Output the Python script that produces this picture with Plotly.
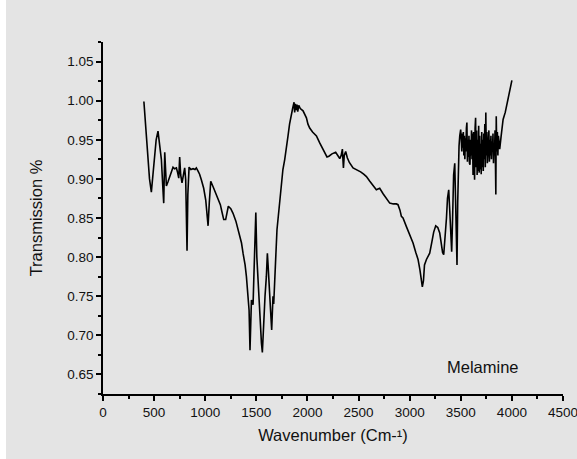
import plotly.graph_objects as go

# Wavenumber (cm-1) and transmission values
wavenumber = [
    400, 420, 440, 455, 473, 490, 506, 520, 538, 555, 571, 585, 594, 604, 612, 620, 635, 652, 668, 685,
    700, 718, 730, 741, 750, 760, 773, 785, 799, 809, 815, 822, 830, 842, 860, 881, 900, 913, 930, 945,
    962, 985, 1005, 1018, 1028, 1040, 1054, 1080, 1109, 1130, 1148, 1165, 1181, 1200, 1212, 1226, 1250,
    1272, 1300, 1321, 1337, 1355, 1370, 1377, 1390, 1403, 1415, 1429, 1438, 1445, 1452, 1460, 1468, 1475,
    1485, 1495, 1505, 1517, 1525, 1533, 1543, 1550, 1559, 1565, 1572, 1585, 1598, 1608, 1615, 1621, 1630,
    1637, 1650, 1663, 1670, 1680, 1690, 1702, 1712, 1730, 1745, 1760, 1778, 1795, 1810, 1825, 1843, 1855,
    1869, 1875, 1882, 1890, 1898, 1905, 1915, 1930, 1957, 1990, 2005, 2022, 2050, 2088, 2120, 2152, 2175,
    2191, 2210, 2240, 2276, 2295, 2316, 2330, 2342, 2347, 2352, 2360, 2374, 2390, 2410, 2446, 2480, 2520,
    2550, 2577, 2610, 2640, 2674, 2690, 2707, 2740, 2770, 2805, 2840, 2870, 2886, 2905, 2919, 2935, 2968,
    3000, 3033, 3060, 3082, 3100, 3115, 3124, 3135, 3145, 3164, 3180, 3196, 3215, 3235, 3255, 3275, 3294,
    3310, 3322, 3333, 3345, 3360, 3370, 3382, 3392, 3402, 3411, 3420, 3430, 3441, 3450, 3457, 3463, 3470,
    3478, 3483, 3490, 3499,
    3505, 3510, 3515, 3520, 3525, 3530, 3535, 3540, 3545, 3550, 3555, 3560, 3565, 3570, 3575, 3580, 3585,
    3590, 3595, 3600, 3605, 3610, 3615, 3620, 3625, 3630, 3635, 3640, 3645, 3650, 3655, 3660, 3665, 3670,
    3675, 3680, 3685, 3690, 3695, 3700, 3705, 3710, 3715, 3720, 3725, 3730, 3735, 3740, 3745, 3750, 3755,
    3760, 3765, 3770, 3775, 3780, 3785, 3790, 3795, 3800, 3805, 3810, 3815, 3820, 3825, 3830, 3835, 3840,
    3843, 3847, 3852, 3858, 3863, 3868, 3873,
    3881, 3895, 3914, 3935, 3962, 3980, 4000,
]
transmission = [
    0.999, 0.965, 0.929, 0.900, 0.883, 0.905, 0.929, 0.950, 0.961, 0.945, 0.925, 0.890, 0.869, 0.934, 0.905,
    0.891, 0.896, 0.903, 0.910, 0.915, 0.913, 0.914, 0.908, 0.901, 0.928, 0.905, 0.895, 0.905, 0.914, 0.899,
    0.860, 0.808, 0.880, 0.915, 0.912, 0.913, 0.912, 0.914, 0.910, 0.906, 0.899, 0.888, 0.873, 0.858, 0.840,
    0.870, 0.897, 0.889, 0.880, 0.874, 0.867, 0.857, 0.848, 0.848, 0.858, 0.865, 0.862, 0.856, 0.846, 0.835,
    0.829, 0.818, 0.805, 0.800, 0.790, 0.775, 0.755, 0.732, 0.681, 0.720, 0.745, 0.742, 0.739, 0.771, 0.810,
    0.857, 0.800, 0.771, 0.745, 0.720, 0.700, 0.690, 0.678, 0.700, 0.726, 0.750, 0.775, 0.805, 0.790, 0.779,
    0.755, 0.737, 0.707, 0.750, 0.740, 0.779, 0.800, 0.835, 0.848, 0.875, 0.899, 0.912, 0.925, 0.945, 0.955,
    0.970, 0.985, 0.990, 0.998, 0.985, 0.996, 0.988, 0.995, 0.986, 0.994, 0.990, 0.987, 0.978, 0.970, 0.965,
    0.960, 0.955, 0.946, 0.938, 0.932, 0.928, 0.929, 0.932, 0.934, 0.930, 0.926, 0.930, 0.938, 0.925, 0.914,
    0.930, 0.935, 0.927, 0.921, 0.914, 0.912, 0.909, 0.906, 0.903, 0.897, 0.892, 0.886, 0.887, 0.888, 0.881,
    0.876, 0.869, 0.868, 0.868, 0.867, 0.860, 0.852, 0.850, 0.839, 0.829, 0.818, 0.806, 0.797, 0.784, 0.770,
    0.762, 0.770, 0.790, 0.797, 0.801, 0.805, 0.818, 0.832, 0.840, 0.838, 0.831, 0.815, 0.806, 0.803, 0.820,
    0.850, 0.875, 0.886, 0.860, 0.820, 0.807, 0.850, 0.905, 0.920, 0.870, 0.820, 0.790, 0.870, 0.930, 0.942,
    0.955, 0.963,
    0.950, 0.935, 0.958, 0.940, 0.960, 0.930, 0.955, 0.925, 0.952, 0.935, 0.965, 0.972, 0.922, 0.950, 0.928,
    0.955, 0.920, 0.918, 0.950, 0.930, 0.962, 0.925, 0.958, 0.905, 0.960, 0.910, 0.899, 0.965, 0.978, 0.915,
    0.962, 0.905, 0.950, 0.910, 0.968, 0.908, 0.955, 0.912, 0.945, 0.906, 0.960, 0.915, 0.950, 0.910, 0.958,
    0.925, 0.970, 0.915, 0.985, 0.930, 0.960, 0.920, 0.945, 0.935, 0.962, 0.922, 0.950, 0.930, 0.955, 0.925,
    0.948, 0.935, 0.958, 0.920, 0.945, 0.930, 0.962, 0.912, 0.880, 0.980, 0.935, 0.960, 0.930, 0.955, 0.940,
    0.938, 0.955, 0.976, 0.985, 1.002, 1.012, 1.026,
]

sample_label = "Melamine"
x_title = "Wavenumber (Cm-¹)"
y_title = "Transmission %"

BG = "#e4e4e4"
FONT = "Liberation Sans, Arial, sans-serif"
TXT = "#111111"

fig = go.Figure()
fig.add_trace(go.Scatter(
    x=wavenumber, y=transmission, mode="lines",
    line=dict(color="black", width=1.6), showlegend=False,
))

fig.add_annotation(
    x=3722, y=0.659, xref="x", yref="y", text=sample_label, showarrow=False,
    font=dict(family=FONT, size=16.5, color=TXT),
)

# white strip on the left edge of the picture
W, H = 577, 459
L, R, T, B = 103, 14, 42, 65
pw, ph = W - L - R, H - T - B
fig.add_shape(type="rect", xref="paper", yref="paper",
              x0=(0 - L) / pw, x1=(6 - L) / pw, y0=-B / ph - 0.01, y1=1 + T / ph + 0.01,
              fillcolor="white", line=dict(width=0), layer="below")

fig.update_layout(
    width=W, height=H,
    margin=dict(l=L, r=R, t=T, b=B, autoexpand=False),
    paper_bgcolor=BG, plot_bgcolor=BG,
    font=dict(family=FONT, color=TXT, size=13),
    xaxis=dict(
        range=[0, 4500], dtick=500, tick0=0, tickformat="d", automargin=False,
        ticklabeloverflow="allow",
        showgrid=False, zeroline=False, showline=True, linecolor="black", linewidth=1.5,
        ticks="outside", ticklen=5, tickwidth=1.5, tickcolor="black",
        minor=dict(dtick=250, ticks="outside", ticklen=3, tickwidth=1.5, tickcolor="black", showgrid=False),
        tickfont=dict(size=13.5),
        title=dict(text=x_title, font=dict(size=16.5), standoff=10),
    ),
    yaxis=dict(
        range=[0.625, 1.075], dtick=0.05, tick0=0.65, tickformat=".2f", automargin=False,
        showgrid=False, zeroline=False, showline=True, linecolor="black", linewidth=1.5,
        ticks="outside", ticklen=5, tickwidth=1.5, tickcolor="black",
        minor=dict(dtick=0.025, ticks="outside", ticklen=3, tickwidth=1.5, tickcolor="black", showgrid=False),
        tickfont=dict(size=13.5),
        title=dict(text=y_title, font=dict(size=16.5), standoff=20),
    ),
)

fig.write_html("out.html")
